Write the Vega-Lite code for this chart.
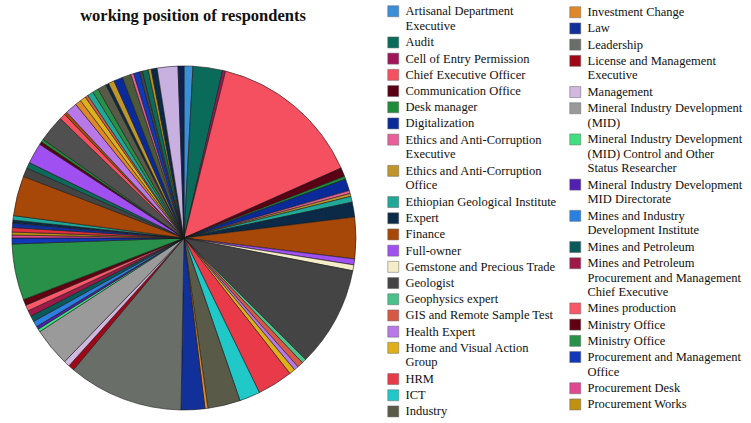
{
  "$schema": "https://vega.github.io/schema/vega-lite/v6.json",
  "width": 368,
  "height": 344,
  "autosize": {"type": "none"},
  "padding": {"left": 0, "top": 66, "right": 383, "bottom": 13},
  "background": "white",
  "title": {"text": "working position of respondents", "font": "Liberation Serif", "fontSize": 16.5, "fontWeight": "bold", "anchor": "middle", "offset": 0, "dy": 19, "dx": 9, "color": "#111"},
  "config": {"view": {"stroke": null}},
  "data": {"values": [
    {"id": 1, "position": "Artisanal Department Executive", "count": 6},
    {"id": 2, "position": "Audit", "count": 20},
    {"id": 3, "position": "Cell of Entry Permission", "count": 2},
    {"id": 4, "position": "Chief Executive Officer", "count": 104},
    {"id": 5, "position": "Communication Office", "count": 6},
    {"id": 6, "position": "Desk manager", "count": 2},
    {"id": 7, "position": "Digitalization", "count": 8},
    {"id": 8, "position": "Ethics and Anti-Corruption Executive", "count": 2},
    {"id": 9, "position": "Ethics and Anti-Corruption Office", "count": 2},
    {"id": 10, "position": "Ethiopian Geological Institute", "count": 4},
    {"id": 11, "position": "Expert", "count": 10},
    {"id": 12, "position": "Finance", "count": 28},
    {"id": 13, "position": "Full-owner", "count": 4},
    {"id": 14, "position": "Gemstone and Precious Trade", "count": 4},
    {"id": 15, "position": "Geologist", "count": 68},
    {"id": 16, "position": "Geophysics expert", "count": 3},
    {"id": 17, "position": "GIS and Remote Sample Test", "count": 4},
    {"id": 18, "position": "Health Expert", "count": 3},
    {"id": 19, "position": "Home and Visual Action Group", "count": 4},
    {"id": 20, "position": "HRM", "count": 24},
    {"id": 21, "position": "ICT", "count": 14},
    {"id": 22, "position": "Industry", "count": 22},
    {"id": 23, "position": "Investment Change", "count": 2},
    {"id": 24, "position": "Law", "count": 16},
    {"id": 25, "position": "Leadership", "count": 78},
    {"id": 26, "position": "License and Management Executive", "count": 4},
    {"id": 27, "position": "Management", "count": 4},
    {"id": 28, "position": "Mineral Industry Development (MID)", "count": 26},
    {"id": 29, "position": "Mineral Industry Development (MID) Control and Other Status Researcher", "count": 2},
    {"id": 30, "position": "Mineral Industry Development MID Directorate", "count": 2},
    {"id": 31, "position": "Mines and Industry Development Institute", "count": 4},
    {"id": 32, "position": "Mines and Petroleum", "count": 4},
    {"id": 33, "position": "Mines and Petroleum Procurement and Management Chief Executive", "count": 4},
    {"id": 34, "position": "Mines production", "count": 4},
    {"id": 35, "position": "Ministry Office", "count": 4},
    {"id": 36, "position": "Ministry Office ", "count": 38},
    {"id": 37, "position": "Procurement and Management Office", "count": 4},
    {"id": 38, "position": "Procurement Desk", "count": 2},
    {"id": 39, "position": "Procurement Works", "count": 2},
    {"id": 40, "position": "Procurement and Supply", "count": 3},
    {"id": 41, "position": "Program Officer", "count": 3},
    {"id": 42, "position": "Project Coordinator", "count": 2},
    {"id": 43, "position": "Property Administration", "count": 3},
    {"id": 44, "position": "Public Relations", "count": 27},
    {"id": 45, "position": "Quality Assurance", "count": 6},
    {"id": 46, "position": "Quarry Licensing", "count": 4},
    {"id": 47, "position": "Regional Bureau", "count": 14},
    {"id": 48, "position": "Registration", "count": 2},
    {"id": 49, "position": "Regulatory Office", "count": 2},
    {"id": 50, "position": "Research and Development", "count": 18},
    {"id": 51, "position": "Resource Management", "count": 4},
    {"id": 52, "position": "Revenue Office", "count": 2},
    {"id": 53, "position": "Safety Officer", "count": 8},
    {"id": 54, "position": "Secretary", "count": 4},
    {"id": 55, "position": "Security", "count": 4},
    {"id": 56, "position": "Senior Expert", "count": 2},
    {"id": 57, "position": "Social Affairs", "count": 4},
    {"id": 58, "position": "Store Keeper", "count": 4},
    {"id": 59, "position": "Strategic Planning", "count": 6},
    {"id": 60, "position": "Supervisor", "count": 2},
    {"id": 61, "position": "Supply Chain", "count": 4},
    {"id": 62, "position": "Surveyor", "count": 6},
    {"id": 63, "position": "Team Leader", "count": 6},
    {"id": 64, "position": "Technical Assistant", "count": 2},
    {"id": 65, "position": "Technician", "count": 4},
    {"id": 66, "position": "Training", "count": 2},
    {"id": 67, "position": "Transport", "count": 4},
    {"id": 68, "position": "Valuation", "count": 2},
    {"id": 69, "position": "Vice Director", "count": 4},
    {"id": 70, "position": "Women and Youth Affairs", "count": 14},
    {"id": 71, "position": "Work Process Owner", "count": 4}
  ]},
  "layer": [
    {
      "mark": {"type": "arc", "outerRadius": 172, "stroke": "#1a1a1a", "strokeWidth": 0.6},
      "encoding": {
        "theta": {"field": "count", "type": "quantitative", "stack": true},
        "order": {"field": "id", "type": "quantitative"},
        "color": {
          "field": "position", "type": "nominal",
          "scale": {
            "domain": ["Artisanal Department Executive", "Audit", "Cell of Entry Permission", "Chief Executive Officer", "Communication Office", "Desk manager", "Digitalization", "Ethics and Anti-Corruption Executive", "Ethics and Anti-Corruption Office", "Ethiopian Geological Institute", "Expert", "Finance", "Full-owner", "Gemstone and Precious Trade", "Geologist", "Geophysics expert", "GIS and Remote Sample Test", "Health Expert", "Home and Visual Action Group", "HRM", "ICT", "Industry", "Investment Change", "Law", "Leadership", "License and Management Executive", "Management", "Mineral Industry Development (MID)", "Mineral Industry Development (MID) Control and Other Status Researcher", "Mineral Industry Development MID Directorate", "Mines and Industry Development Institute", "Mines and Petroleum", "Mines and Petroleum Procurement and Management Chief Executive", "Mines production", "Ministry Office", "Ministry Office ", "Procurement and Management Office", "Procurement Desk", "Procurement Works", "Procurement and Supply", "Program Officer", "Project Coordinator", "Property Administration", "Public Relations", "Quality Assurance", "Quarry Licensing", "Regional Bureau", "Registration", "Regulatory Office", "Research and Development", "Resource Management", "Revenue Office", "Safety Officer", "Secretary", "Security", "Senior Expert", "Social Affairs", "Store Keeper", "Strategic Planning", "Supervisor", "Supply Chain", "Surveyor", "Team Leader", "Technical Assistant", "Technician", "Training", "Transport", "Valuation", "Vice Director", "Women and Youth Affairs", "Work Process Owner"],
            "range": ["#3a8fd8", "#0b6b5a", "#a0155a", "#f4505f", "#5a0015", "#1e8c3a", "#0a2a9a", "#e8609a", "#c0962a", "#20a898", "#0a2a48", "#a84808", "#a050f0", "#f5ecc8", "#444444", "#4cc08a", "#d85848", "#b878e8", "#e0b018", "#e83a48", "#20c8c8", "#5a5a48", "#e08828", "#12309a", "#6a6e68", "#a00818", "#d0b8e0", "#9a9a9a", "#40e080", "#5020b0", "#2a80e0", "#0a5a5a", "#a01848", "#f85868", "#600010", "#289048", "#1038b8", "#e04890", "#c09010", "#e03040", "#12309a", "#0a2a48", "#20a898", "#a84808", "#444444", "#0b6b5a", "#a050f0", "#5a0015", "#1e8c3a", "#505050", "#f4505f", "#a84808", "#b878e8", "#e08828", "#e0b018", "#d85848", "#20a898", "#289048", "#5a5a48", "#0a2a48", "#c0962a", "#0a2a9a", "#4a5a3a", "#e8609a", "#1038b8", "#444444", "#0b6b5a", "#c09010", "#0a2a48", "#c8b0e0", "#102050"]
          },
          "legend": {
            "title": null, "orient": "none", "legendX": 387, "legendY": -61, "padding": 0,
            "values": ["Artisanal Department Executive", "Audit", "Cell of Entry Permission", "Chief Executive Officer", "Communication Office", "Desk manager", "Digitalization", "Ethics and Anti-Corruption Executive", "Ethics and Anti-Corruption Office", "Ethiopian Geological Institute", "Expert", "Finance", "Full-owner", "Gemstone and Precious Trade", "Geologist", "Geophysics expert", "GIS and Remote Sample Test", "Health Expert", "Home and Visual Action Group", "HRM", "ICT", "Industry"],
            "symbolType": "square", "symbolSize": 121, "symbolStrokeColor": "#666", "symbolStrokeWidth": 0.5, "symbolOpacity": 1,
            "labelFont": "Liberation Serif", "labelFontSize": 12.5, "labelColor": "#111", "labelOffset": 6, "labelLimit": 180, "rowPadding": 2.2,
            "labelExpr": "datum.label == 'Artisanal Department Executive' ? ['Artisanal Department', 'Executive'] : datum.label == 'Ethics and Anti-Corruption Executive' ? ['Ethics and Anti-Corruption', 'Executive'] : datum.label == 'Ethics and Anti-Corruption Office' ? ['Ethics and Anti-Corruption', 'Office'] : datum.label == 'Home and Visual Action Group' ? ['Home and Visual Action', 'Group'] : datum.label"
          }
        }
      }
    },
    {
      "transform": [{"filter": "false"}],
      "mark": {"type": "arc", "outerRadius": 172},
      "encoding": {
        "theta": {"field": "count", "type": "quantitative"},
        "fill": {
          "field": "position", "type": "nominal",
          "scale": {
            "domain": ["Investment Change", "Law", "Leadership", "License and Management Executive", "Management", "Mineral Industry Development (MID)", "Mineral Industry Development (MID) Control and Other Status Researcher", "Mineral Industry Development MID Directorate", "Mines and Industry Development Institute", "Mines and Petroleum", "Mines and Petroleum Procurement and Management Chief Executive", "Mines production", "Ministry Office", "Ministry Office ", "Procurement and Management Office", "Procurement Desk", "Procurement Works"],
            "range": ["#e08828", "#12309a", "#6a6e68", "#a00818", "#d0b8e0", "#9a9a9a", "#40e080", "#5020b0", "#2a80e0", "#0a5a5a", "#a01848", "#f85868", "#600010", "#289048", "#1038b8", "#e04890", "#c09010"]
          },
          "legend": {
            "title": null, "orient": "none", "legendX": 569, "legendY": -60, "padding": 0,
            "symbolType": "square", "symbolSize": 121, "symbolStrokeColor": "#666", "symbolStrokeWidth": 0.5, "symbolOpacity": 1,
            "labelFont": "Liberation Serif", "labelFontSize": 12.5, "labelColor": "#111", "labelOffset": 6, "labelLimit": 200, "rowPadding": 2.2,
            "labelExpr": "datum.label == 'License and Management Executive' ? ['License and Management', 'Executive'] : datum.label == 'Mineral Industry Development (MID)' ? ['Mineral Industry Development', '(MID)'] : datum.label == 'Mineral Industry Development (MID) Control and Other Status Researcher' ? ['Mineral Industry Development', '(MID) Control and Other', 'Status Researcher'] : datum.label == 'Mineral Industry Development MID Directorate' ? ['Mineral Industry Development', 'MID Directorate'] : datum.label == 'Mines and Industry Development Institute' ? ['Mines and Industry', 'Development Institute'] : datum.label == 'Mines and Petroleum Procurement and Management Chief Executive' ? ['Mines and Petroleum', 'Procurement and Management', 'Chief Executive'] : datum.label == 'Procurement and Management Office' ? ['Procurement and Management', 'Office'] : datum.label"
          }
        }
      }
    }
  ]
}
